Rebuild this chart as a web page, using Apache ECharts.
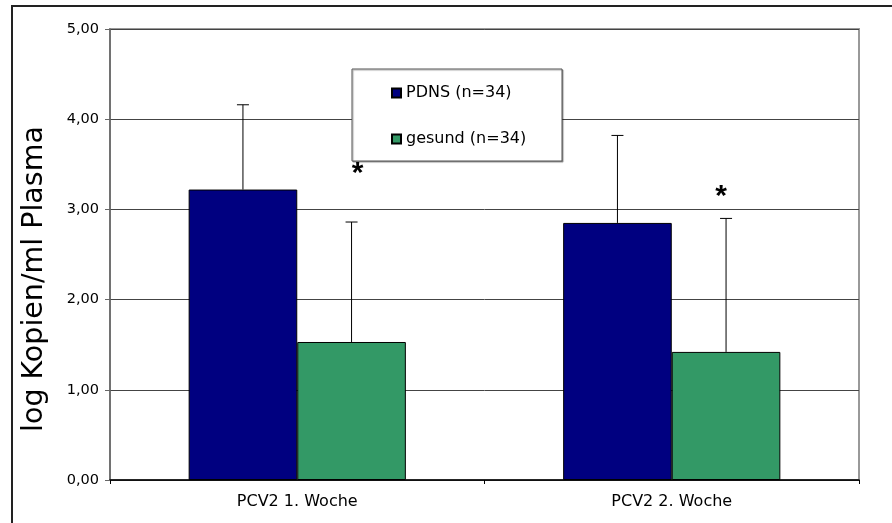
<!DOCTYPE html>
<html><head><meta charset="utf-8">
<script src="https://cdn.jsdelivr.net/npm/echarts@6/dist/echarts.min.js"></script>
<style>html,body{margin:0;padding:0;background:#fff}#c{width:892px;height:523px}</style>
</head><body><div id="c"></div>
<script>
var categories = ['PCV2 1. Woche', 'PCV2 2. Woche'];
var seriesNames = ['PDNS (n=34)', 'gesund (n=34)'];
var pdns = [3.22, 2.85];
var gesund = [1.53, 1.42];
var pdnsSD = [0.94, 0.97];
var gesundSD = [1.33, 1.48];
var starY = [3.45, 3.20];
var yTicks = [0, 1, 2, 3, 4, 5];

var FONT = '"DejaVu Sans", Verdana, sans-serif';
var CAT_GAP = 0.42;
var chart = echarts.init(document.getElementById('c'));

function errData(vals, sds) {
  return vals.map(function (v, i) { return [i, v, v + sds[i]]; });
}
function errRender(sign) {
  return function (params, api) {
    var band = api.size([1, 0])[0];
    var bw = band * (1 - CAT_GAP) / 2;
    var base = api.coord([api.value(0), api.value(1)]);
    var top = api.coord([api.value(0), api.value(2)]);
    var x = base[0] + sign * bw / 2;
    var cap = 6;
    return {
      type: 'group',
      children: [
        { type: 'line', shape: { x1: x, y1: base[1], x2: x, y2: top[1] }, style: { stroke: '#000', lineWidth: 1 } },
        { type: 'line', shape: { x1: x - cap, y1: top[1], x2: x + cap, y2: top[1] }, style: { stroke: '#000', lineWidth: 1 } }
      ]
    };
  };
}

chart.setOption({
  animation: false,
  backgroundColor: '#fff',
  grid: { left: 110, top: 29, right: 33, bottom: 43, show: true, borderColor: '#999', borderWidth: 2 },
  legend: {
    data: seriesNames,
    orient: 'vertical',
    left: 391, top: 85,
    z: 20,
    padding: 0,
    itemGap: 30,
    icon: 'rect',
    itemWidth: 9, itemHeight: 9,
    selectedMode: false,
    textStyle: { fontFamily: FONT, fontSize: 16, color: '#000', lineHeight: 16 }
  },
  xAxis: {
    type: 'category',
    data: categories,
    axisLine: { lineStyle: { color: '#000', width: 1.5 } },
    axisTick: { show: true, length: 4, lineStyle: { color: '#000' } },
    axisLabel: { fontFamily: FONT, fontSize: 16, color: '#000', margin: 14 }
  },
  yAxis: {
    type: 'value',
    min: 0, max: 5, interval: 1,
    axisLine: { show: true, lineStyle: { color: '#666', width: 1.5 } },
    axisTick: { show: true, length: 5, lineStyle: { color: '#666' } },
    axisLabel: {
      fontFamily: FONT, fontSize: 14.5, color: '#000', margin: 11,
      formatter: function (v) { return v.toFixed(2).replace('.', ','); }
    },
    splitLine: { lineStyle: { color: '#444', width: 1 } }
  },
  series: [
    {
      name: seriesNames[0], type: 'bar', data: pdns,
      barGap: '0%', barCategoryGap: (CAT_GAP * 100) + '%',
      itemStyle: { color: '#000080', borderColor: '#000', borderWidth: 1 }
    },
    {
      name: seriesNames[1], type: 'bar', data: gesund,
      barGap: '0%', barCategoryGap: (CAT_GAP * 100) + '%',
      itemStyle: { color: '#339966', borderColor: '#000', borderWidth: 1 }
    },
    {
      type: 'custom', name: 'errP', data: errData(pdns, pdnsSD),
      renderItem: errRender(-1), z: 5, encode: { x: 0, y: [1, 2] }
    },
    {
      type: 'custom', name: 'errG', data: errData(gesund, gesundSD),
      renderItem: errRender(1), z: 5, encode: { x: 0, y: [1, 2] }
    },
    {
      type: 'custom', name: 'stars', z: 6,
      data: starY.map(function (v, i) { return [i, v]; }),
      encode: { x: 0, y: 1 },
      renderItem: function (params, api) {
        var band = api.size([1, 0])[0];
        var p = api.coord([api.value(0), api.value(1)]);
        var x = p[0] + band * (1 - CAT_GAP) / 4 + (params.dataIndex === 0 ? 6 : -5);
        return {
          type: 'text',
          style: { text: '*', x: x, y: p[1] + 5, align: 'center', verticalAlign: 'middle',
                   font: 'bold 30px "Liberation Sans", Arial, sans-serif', fill: '#000' }
        };
      }
    }
  ],
  graphic: [
    { type: 'rect', z: -1, shape: { x: 12, y: 6, width: 900, height: 530 },
      style: { fill: 'none', stroke: '#222', lineWidth: 2 } },
    { type: 'rect', z: 3, shape: { x: 352, y: 69, width: 210, height: 92 },
      style: { fill: '#fff', stroke: '#555', lineWidth: 1, shadowColor: 'rgba(0,0,0,0.35)', shadowOffsetX: 1, shadowOffsetY: 1, shadowBlur: 1 } },
    { type: 'text', z: 60, rotation: Math.PI / 2, x: 35, y: 279,
      style: { text: 'log Kopien/ml Plasma', font: '28.5px ' + FONT, fill: '#000', align: 'center', verticalAlign: 'middle' } }
  ]
});
</script>
</body></html>
